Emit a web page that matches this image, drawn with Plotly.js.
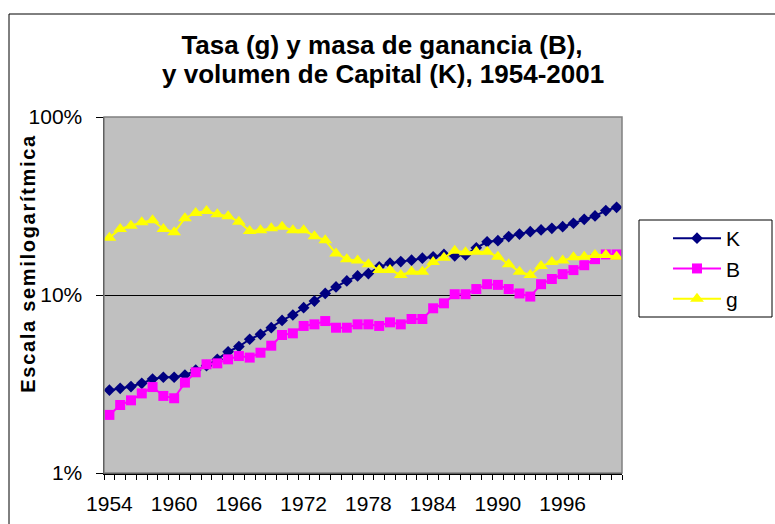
<!DOCTYPE html>
<html>
<head>
<meta charset="utf-8">
<script src="https://cdn.plot.ly/plotly-3.0.1.min.js"></script>
<style>
  html, body { margin: 0; padding: 0; background: #fff; }
  #chart { width: 775px; height: 524px; }
  .annotation[data-index="1"] text { letter-spacing: 1.7px; }
</style>
</head>
<body>
<div id="chart"></div>
<script>
// Years 1954-2001
const years = [1954,1955,1956,1957,1958,1959,1960,1961,1962,1963,1964,1965,
               1966,1967,1968,1969,1970,1971,1972,1973,1974,1975,1976,1977,
               1978,1979,1980,1981,1982,1983,1984,1985,1986,1987,1988,1989,
               1990,1991,1992,1993,1994,1995,1996,1997,1998,1999,2000,2001];

// K: volumen de Capital (%)
const K = [2.92,2.99,3.06,3.19,3.37,3.45,3.45,3.55,3.79,4.01,4.35,4.80,
           5.13,5.64,6.01,6.55,7.20,7.72,8.49,9.25,10.2,11.1,12.0,12.8,
           13.2,14.4,15.1,15.4,15.7,16.1,16.4,16.9,16.6,16.8,18.4,19.9,
           20.2,21.3,22.0,22.7,23.2,23.7,24.2,25.3,26.6,27.8,29.8,31.1];

// B: masa de ganancia (%)
const B = [2.12,2.41,2.56,2.80,3.04,2.71,2.63,3.22,3.68,4.08,4.13,4.35,
           4.54,4.45,4.74,5.19,5.96,6.09,6.70,6.84,7.14,6.55,6.55,6.84,
           6.84,6.70,7.02,6.84,7.33,7.33,8.42,8.98,10.1,10.1,10.8,11.5,
           11.4,10.8,10.2,9.8,11.5,12.3,13.1,13.8,14.7,15.9,16.9,16.9];

// g: tasa de ganancia (%)
const g = [21.0,23.5,24.5,25.6,26.3,23.5,22.5,27.0,28.9,29.6,28.4,27.7,
           25.8,22.9,23.1,23.7,24.2,23.1,23.1,21.4,20.3,17.1,15.9,15.6,
           14.9,13.8,13.8,12.95,13.5,13.5,15.3,16.2,17.7,17.4,17.5,17.5,
           16.4,14.9,13.5,12.95,14.55,15.3,15.6,16.3,16.4,16.8,16.8,16.4];

const seriesNames = ['K', 'B', 'g'];
const yTickVals = [1, 10, 100];
const yTickText = ['1%', '10%', '100%'];
const titleLines = ['Tasa (g) y masa de ganancia (B),', 'y volumen de Capital (K), 1954-2001'];

const FONT = 'Arial, "Liberation Sans", sans-serif';

const traces = [
  { x: years, y: K, name: seriesNames[0], type: 'scatter', mode: 'lines+markers',
    line: { color: '#000080', width: 2 },
    marker: { symbol: 'diamond', size: 9, color: '#000080' } },
  { x: years, y: B, name: seriesNames[1], type: 'scatter', mode: 'lines+markers',
    line: { color: '#FF00FF', width: 2 },
    marker: { symbol: 'square', size: 10, color: '#FF00FF' } },
  { x: years, y: g, name: seriesNames[2], type: 'scatter', mode: 'lines+markers',
    line: { color: '#FFFF00', width: 2 },
    marker: { symbol: 'triangle-up', size: 12, color: '#FFFF00' } }
];

const L = 104, R = 622, T = 117, Bt = 473;
const W = R - L, H = Bt - T;
const px = v => (v - L) / W;
const py = v => (Bt - v) / H;

const layout = {
  width: 775, height: 524,
  margin: { l: L, r: 775 - R, t: T, b: 524 - Bt, pad: 0 },
  paper_bgcolor: '#ffffff',
  plot_bgcolor: '#C0C0C0',
  font: { family: FONT, color: '#000' },
  showlegend: true,
  title: {
    text: titleLines[0],
    font: { family: FONT, size: 26, weight: 'bold', color: '#000' },
    xref: 'container', x: 382 / 775, xanchor: 'center',
    yref: 'container', y: 1 - 45 / 524, yanchor: 'middle',
    pad: { t: 0, b: 0, l: 0, r: 0 }
  },
  xaxis: {
    type: 'linear',
    range: [1953.5, 2001.5],
    tickmode: 'linear', tick0: 1954, dtick: 6,
    ticks: 'outside', ticklen: 0, tickcolor: '#000',
    tickfont: { family: FONT, size: 21, color: '#000' },
    ticklabelstandoff: 11,
    showgrid: false, zeroline: false,
    showline: true, linecolor: '#000', linewidth: 1.5,
    minor: { ticks: 'outside', ticklen: 5, tickcolor: '#000', tickwidth: 1,
             tick0: 1953.5, dtick: 1, showgrid: false },
    fixedrange: true
  },
  yaxis: {
    type: 'log',
    range: [0, 2],
    tickmode: 'array', tickvals: yTickVals, ticktext: yTickText,
    ticks: 'outside', ticklen: 7, tickcolor: '#000',
    tickfont: { family: FONT, size: 21, color: '#000' },
    ticklabelstandoff: 9,
    showgrid: true, gridcolor: '#000', gridwidth: 1,
    zeroline: false,
    showline: true, linecolor: '#000', linewidth: 1.5,
    fixedrange: true
  },
  legend: {
    x: px(668), xanchor: 'left',
    y: py(218), yanchor: 'top',
    bgcolor: 'rgba(0,0,0,0)', borderwidth: 0,
    font: { family: FONT, size: 21, color: '#000' },
    itemwidth: 48,
    tracegroupgap: 0
  },
  shapes: [
    // plot area border (grey)
    { type: 'rect', xref: 'paper', yref: 'paper', x0: 0, x1: 1, y0: 0, y1: 1,
      line: { color: '#808080', width: 1.5 }, fillcolor: 'rgba(0,0,0,0)', layer: 'above' },
    // legend box
    { type: 'rect', xref: 'paper', yref: 'paper',
      x0: px(639), x1: px(772), y0: py(317), y1: py(220),
      line: { color: '#000', width: 1 }, fillcolor: '#ffffff', layer: 'below' },
    // outer chart border (left and top)
    { type: 'line', xref: 'paper', yref: 'paper',
      x0: px(9), x1: px(9), y0: py(14), y1: py(540),
      line: { color: '#000', width: 1 } },
    { type: 'line', xref: 'paper', yref: 'paper',
      x0: px(9), x1: px(790), y0: py(14), y1: py(14),
      line: { color: '#000', width: 1 } }
  ],
  annotations: [
    { text: titleLines[1], showarrow: false,
      xref: 'paper', yref: 'paper', x: px(382.5), y: py(74),
      xanchor: 'center', yanchor: 'middle',
      font: { family: FONT, size: 26, weight: 'bold', color: '#000' } },
    { text: 'Escala semilogarítmica', textangle: -90, showarrow: false,
      xref: 'paper', yref: 'paper', x: px(28), y: py(263),
      xanchor: 'center', yanchor: 'middle',
      font: { family: FONT, size: 20, weight: 'bold', color: '#000' } }
  ]
};

Plotly.newPlot('chart', traces, layout, { displayModeBar: false, staticPlot: true });
</script>
</body>
</html>
